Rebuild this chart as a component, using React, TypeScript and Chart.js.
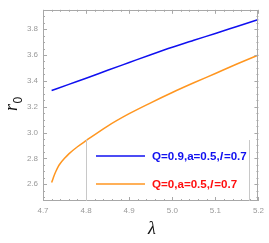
import React, { useEffect, useRef } from "react";
import { Chart, registerables } from "chart.js";

Chart.register(...registerables);

const lambdaBlue = [4.72, 4.76, 4.8, 4.85, 4.9, 4.95, 5.0, 5.05, 5.1, 5.15, 5.2];
const rBlue = [3.325, 3.373, 3.42, 3.482, 3.542, 3.602, 3.66, 3.714, 3.767, 3.821, 3.875];

const lambdaOrange = [4.72, 4.722, 4.725, 4.73, 4.735, 4.74, 4.75, 4.76, 4.78, 4.8, 4.85, 4.9, 4.95, 5.0, 5.05, 5.1, 5.15, 5.2];
const rOrange = [2.613, 2.63, 2.66, 2.70, 2.735, 2.76, 2.80, 2.835, 2.89, 2.937, 3.05, 3.146, 3.23, 3.31, 3.385, 3.457, 3.53, 3.60];

const xTicks = [4.7, 4.8, 4.9, 5.0, 5.1, 5.2];
const yTicks = [2.6, 2.8, 3.0, 3.2, 3.4, 3.6, 3.8];

const legendParts = [
  ["Q=0.9,a=0.5,", "l", "=0.7"],
  ["Q=0,a=0.5,", "l", "=0.7"],
];
const lineColors = ["#1010f0", "#ff9620"];
const textColors = ["#1010f0", "#ff1010"];

const X_MIN = 4.7, X_MAX = 5.2, Y_MIN = 2.47, Y_MAX = 3.95;

const decorPlugin = {
  id: "decor",
  afterDraw(chart: any) {
    const { ctx, chartArea: a, scales } = chart;
    const xs = scales.x, ys = scales.y;
    ctx.save();
    // frame
    ctx.strokeStyle = "#a8a8a8";
    ctx.lineWidth = 1;
    ctx.strokeRect(Math.round(a.left) + 0.5, Math.round(a.top) + 0.5, Math.round(a.right - a.left) - 1, Math.round(a.bottom - a.top) - 1);
    // ticks
    ctx.beginPath();
    for (let i = 0; i <= 25; i++) {
      const v = X_MIN + i * 0.02;
      const px = Math.round(xs.getPixelForValue(v)) + 0.5;
      const len = i % 5 === 0 ? 4 : 2;
      ctx.moveTo(px, a.bottom); ctx.lineTo(px, a.bottom - len);
      ctx.moveTo(px, a.top); ctx.lineTo(px, a.top + len);
    }
    for (let i = 0; i < 40; i++) {
      const v = 2.45 + i * 0.05;
      if (v < Y_MIN || v > Y_MAX) continue;
      const py = Math.round(ys.getPixelForValue(v)) + 0.5;
      const major = Math.abs(((v - 2.6) / 0.2) - Math.round((v - 2.6) / 0.2)) < 1e-6;
      const len = major ? 4 : 2;
      ctx.moveTo(a.left, py); ctx.lineTo(a.left + len, py);
      ctx.moveTo(a.right, py); ctx.lineTo(a.right - len, py);
    }
    ctx.stroke();
    // legend frame (side lines)
    const lx = Math.round(xs.getPixelForValue(4.8)) + 0.5;
    const rx = Math.round(a.right - 9) + 0.5;
    ctx.strokeStyle = "#c8c8c8";
    ctx.beginPath();
    ctx.moveTo(lx, 139); ctx.lineTo(lx, a.bottom);
    ctx.moveTo(rx, 140); ctx.lineTo(rx, a.bottom);
    ctx.stroke();
    // legend entries
    const rows = [156, 184];
    rows.forEach((y, i) => {
      ctx.strokeStyle = lineColors[i];
      ctx.lineWidth = 1.5;
      ctx.beginPath();
      ctx.moveTo(96, y); ctx.lineTo(145, y);
      ctx.stroke();
      ctx.fillStyle = textColors[i];
      ctx.textBaseline = "middle";
      ctx.textAlign = "left";
      let x = 152;
      const parts = legendParts[i];
      parts.forEach((p, j) => {
        ctx.font = (j === 1 ? "italic " : "") + "bold 11.6px 'Liberation Sans', Arial, sans-serif";
        ctx.fillText(p, x, y + 1);
        x += ctx.measureText(p).width + (j === 1 ? 1 : 0);
      });
    });
    // axis titles
    ctx.fillStyle = "#111";
    ctx.save();
    ctx.translate(17, 111);
    ctx.rotate(-Math.PI / 2);
    ctx.textAlign = "left";
    ctx.textBaseline = "alphabetic";
    ctx.font = "italic 18px 'Liberation Serif', 'Times New Roman', serif";
    ctx.fillText("r", 0, 0);
    const rw = ctx.measureText("r").width;
    ctx.font = "12px 'Liberation Sans', Arial, sans-serif";
    ctx.fillText("0", rw + 0.5, 5);
    ctx.restore();
    ctx.font = "italic 18px 'Liberation Serif', 'Times New Roman', serif";
    ctx.textAlign = "center";
    ctx.textBaseline = "middle";
    ctx.fillText("λ", 152, 229);
    ctx.restore();
  },
};

export default function App() {
  const ref = useRef<HTMLCanvasElement | null>(null);
  useEffect(() => {
    document.body.style.margin = "0";
    const canvas = ref.current!;
    const chart = new Chart(canvas, {
      type: "scatter",
      data: {
        datasets: [
          {
            label: "blue",
            data: lambdaBlue.map((x, i) => ({ x, y: rBlue[i] })),
            showLine: true,
            borderColor: lineColors[0],
            borderWidth: 1.5,
            pointRadius: 0,
            cubicInterpolationMode: "monotone",
          },
          {
            label: "orange",
            data: lambdaOrange.map((x, i) => ({ x, y: rOrange[i] })),
            showLine: true,
            borderColor: lineColors[1],
            borderWidth: 1.5,
            pointRadius: 0,
            cubicInterpolationMode: "monotone",
          },
        ],
      },
      options: {
        responsive: false,
        animation: false,
        devicePixelRatio: 1,
        layout: { padding: { top: 5, right: 9, left: 0, bottom: 0 } },
        plugins: { legend: { display: false }, tooltip: { enabled: false } },
        scales: {
          x: {
            type: "linear",
            min: X_MIN,
            max: X_MAX,
            grid: { display: false, drawTicks: false, tickLength: 0 },
            border: { display: false },
            afterBuildTicks: (s: any) => { s.ticks = xTicks.map((v) => ({ value: v })); },
            afterFit: (s: any) => { s.height = 42; },
            ticks: {
              padding: 5,
              color: "#999",
              font: { size: 8, family: "'Liberation Sans', Arial, sans-serif" },
              maxRotation: 0,
              autoSkip: false,
              callback: (v: any) => Number(v).toFixed(1),
            },
          },
          y: {
            type: "linear",
            min: Y_MIN,
            max: Y_MAX,
            grid: { display: false, drawTicks: false, tickLength: 0 },
            border: { display: false },
            afterBuildTicks: (s: any) => { s.ticks = yTicks.map((v) => ({ value: v })); },
            afterFit: (s: any) => { s.width = 43; },
            ticks: {
              padding: 5,
              color: "#999",
              font: { size: 8, family: "'Liberation Sans', Arial, sans-serif" },
              autoSkip: false,
              callback: (v: any) => Number(v).toFixed(1),
            },
          },
        },
      },
      plugins: [decorPlugin],
    } as any);
    return () => chart.destroy();
  }, []);
  return (
    <div style={{ width: 269, height: 243, background: "#fff" }}>
      <canvas ref={ref} width={269} height={243} style={{ display: "block" }} />
    </div>
  );
}
